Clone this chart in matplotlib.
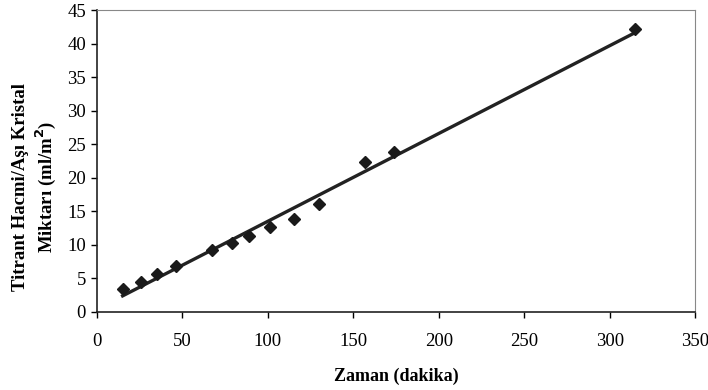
import numpy as np
import matplotlib.pyplot as plt

plt.rcParams['font.family'] = ['Liberation Serif', 'DejaVu Serif']

# measured points
zaman = [15, 26, 35, 46, 67, 79, 89, 101, 115, 130, 157, 174, 315]
miktar = [3.4, 4.5, 5.7, 6.8, 9.2, 10.3, 11.4, 12.6, 13.8, 16.1, 22.4, 23.9, 42.2]

# linear trendline
slope, intercept = np.polyfit(zaman, miktar, 1)
xfit = np.array([min(zaman), max(zaman)])
yfit = slope * xfit + intercept

fig = plt.figure(figsize=(7.08, 3.9), dpi=100)
ax = fig.add_axes([0.137, 0.2, 0.845, 0.774])

ax.plot(xfit, yfit, color='#222222', lw=2.4, zorder=2)
ax.plot(zaman, miktar, 'D', color='#1a1a1a', ms=6, zorder=3)

ax.set_xlim(0, 350)
ax.set_ylim(0, 45)
ax.set_xticks(range(0, 351, 50))
ax.set_yticks(range(0, 46, 5))
ax.tick_params(direction='out', length=4, width=1, labelsize=13.5)
ax.tick_params(axis='x', pad=11)
ax.tick_params(axis='y', pad=4)

for s in ['left', 'bottom']:
    ax.spines[s].set_linewidth(1.2)
    ax.spines[s].set_color('#222222')
for s in ['top', 'right']:
    ax.spines[s].set_linewidth(0.8)
    ax.spines[s].set_color('#888888')

ax.set_xlabel('Zaman (dakika)', fontsize=13, fontweight='bold', labelpad=13)
ax.set_ylabel('Titrant Hacmi/Aşı Kristal\nMiktarı (ml/m$^\\mathbf{2}$)', fontsize=13.5,
              fontweight='bold')
ax.yaxis.set_label_coords(-0.066, 0.414)

fig.savefig('out.png', dpi=100)
